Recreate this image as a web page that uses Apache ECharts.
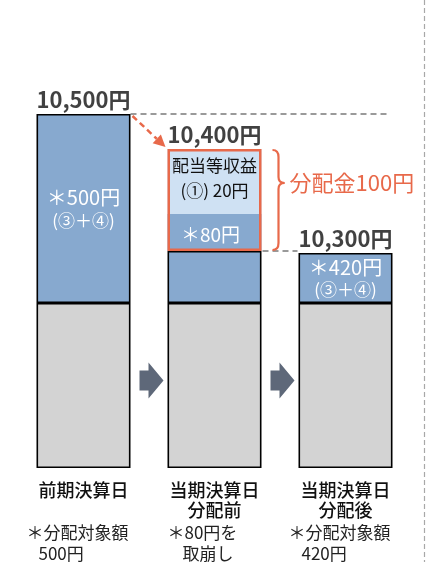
<!DOCTYPE html>
<html><head><meta charset="utf-8">
<script src="https://cdn.jsdelivr.net/npm/echarts@6/dist/echarts.min.js"></script>
<style>html,body{margin:0;padding:0;background:#fff}#c{width:427px;height:562px}</style>
</head><body><div id="c"></div>
<script>
// ---- data ----
const categories = ['前期決算日', '当期決算日\n分配前', '当期決算日\n分配後'];
const totals = [10500, 10400, 10300];
// schematic segment heights (the diagram is not to scale)
const baseHeights = [165, 165, 165];
const blueHeights = [189, 52, 50];
const kept80Heights = ['-', 37, '-'];
const incomeHeights = ['-', 65, '-'];
const blueMain = ['＊500円', '', '＊420円'];
const blueSub = ['(③＋④)', '', '(③＋④)'];
const kept80Label = '＊80円';
const incomeLabel = ['配当等収益', '(①) 20円'];
const payoutLabel = '分配金100円';
const notes = [['＊分配対象額', '500円'], ['＊80円を', '取崩し'], ['＊分配対象額', '420円']];

// ---- style ----
const FONT = '"Noto Sans CJK JP", "Noto Sans", sans-serif';
const FONT_M = '"Noto Sans CJK JP Medium", "Noto Sans CJK JP", "Noto Sans", sans-serif';
const BLUE = '#87a9cf', LIGHT = '#cfe1f3', GRAY = '#d3d3d3', ORANGE = '#e8694a', ARROW = '#5e6879';
const BW = 94;

const num = v => (v === '-' ? 0 : v);
const stackTop = categories.map((_, i) => baseHeights[i] + blueHeights[i] + num(kept80Heights[i]) + num(incomeHeights[i]));
const boxOffset = categories.map((_, i) => kept80Heights[i] === '-' ? '-' : baseHeights[i] + blueHeights[i]);
const boxHeight = categories.map((_, i) => kept80Heights[i] === '-' ? '-' : kept80Heights[i] + incomeHeights[i]);
const fmtYen = v => v.toLocaleString('en-US') + '円';

const chart = echarts.init(document.getElementById('c'));
const common = { type: 'bar', barWidth: BW, barGap: '-100%' };
chart.setOption({
  animation: false,
  textStyle: { fontFamily: FONT },
  grid: { left: 18, right: 16, top: 68, bottom: 94 },
  xAxis: {
    type: 'category', data: categories,
    axisLine: { show: false }, axisTick: { show: false },
    axisLabel: { color: '#111', fontSize: 18, lineHeight: 20, margin: 12, fontFamily: FONT_M, interval: 0 }
  },
  yAxis: { type: 'value', min: 0, max: 400, show: false, splitLine: { show: false } },
  series: [
    Object.assign({}, common, { name: 'base', stack: 'main', data: baseHeights,
      itemStyle: { color: GRAY, borderColor: '#000', borderWidth: 1.6 } }),
    Object.assign({}, common, { name: 'blue', stack: 'main', data: blueHeights,
      itemStyle: { color: BLUE, borderColor: '#000', borderWidth: 1.6 },
      label: { show: true, position: 'inside', color: '#fff', fontFamily: FONT,
        formatter: p => blueMain[p.dataIndex] ? '{a|' + blueMain[p.dataIndex] + '}\n{b|' + blueSub[p.dataIndex] + '}' : '',
        rich: { a: { fontSize: 20, lineHeight: 24, color: '#fff', fontFamily: FONT }, b: { fontSize: 17, lineHeight: 22, color: '#fff', fontFamily: FONT } } } }),
    Object.assign({}, common, { name: 'kept80', stack: 'main', data: kept80Heights,
      itemStyle: { color: BLUE },
      label: { show: true, position: 'inside', color: '#fff', fontSize: 19, offset: [-4, 2], fontFamily: FONT, formatter: kept80Label } }),
    Object.assign({}, common, { name: 'income', stack: 'main', data: incomeHeights,
      itemStyle: { color: LIGHT },
      label: { show: true, position: 'inside', color: '#111', fontSize: 17, lineHeight: 25, offset: [0, -3], fontFamily: FONT,
        formatter: incomeLabel.join('\n') } }),
    Object.assign({}, common, { name: 'boxOffset', stack: 'box', data: boxOffset,
      itemStyle: { color: 'transparent' }, silent: true }),
    Object.assign({}, common, { name: 'box', stack: 'box', data: boxHeight, z: 5,
      itemStyle: { color: 'transparent', borderColor: ORANGE, borderWidth: 2.5 } }),
    { type: 'scatter', name: 'totals', data: stackTop, symbolSize: 1, itemStyle: { color: 'transparent' }, z: 6,
      label: { show: true, position: 'top', distance: 3, color: '#111', fontSize: 22, fontWeight: 'bold', fontFamily: FONT,
        formatter: p => fmtYen(totals[p.dataIndex]) } }
  ]
});

// ---- annotations positioned from the axes ----
const px = (i, v) => chart.convertToPixel({ xAxisIndex: 0, yAxisIndex: 0 }, [i, v]);
const half = BW / 2;
const cx = categories.map((_, i) => px(i, 0)[0]);
const yTop = stackTop.map((v, i) => px(i, v)[1]);
const yBase = px(0, baseHeights[0])[1];
const yZero = px(0, 0)[1];
const yBoxBottom = px(1, boxOffset[1])[1];
const W = chart.getWidth(), H = chart.getHeight();
const g = [];

// gray dashed level line from previous total
g.push({ type: 'line', shape: { x1: cx[0] + half, y1: yTop[0], x2: cx[2] + half - 4, y2: yTop[0] },
  style: { stroke: '#9a9a9a', lineWidth: 2, lineDash: [6, 4] } });
// gray dashed line after distribution
g.push({ type: 'line', shape: { x1: cx[1] + half + 1, y1: yBoxBottom, x2: cx[2] - half - 1, y2: yBoxBottom },
  style: { stroke: '#9a9a9a', lineWidth: 2, lineDash: [6, 4] } });
// orange dashed arrow
(function () {
  const sx = cx[0] + half + 2, sy = yTop[0] + 2, tx = cx[1] - half - 2, ty = yTop[1] - 2;
  const dx = tx - sx, dy = ty - sy, L = Math.hypot(dx, dy), ux = dx / L, uy = dy / L;
  const hl = 12, hw = 6;
  const bx = tx - ux * hl, by = ty - uy * hl;
  g.push({ type: 'line', shape: { x1: sx, y1: sy, x2: bx, y2: by }, style: { stroke: ORANGE, lineWidth: 2.5, lineDash: [6, 4] } });
  g.push({ type: 'polygon', shape: { points: [[tx, ty], [bx - uy * hw, by + ux * hw], [bx + uy * hw, by - ux * hw]] }, style: { fill: ORANGE } });
})();
// curly bracket
(function () {
  const x0 = cx[1] + half + 11, yt = yTop[1] + 1, yb = yBoxBottom - 1;
  const ym = yt + (yb - yt) * 0.33, xm = x0 + 6, xt = x0 + 12;
  const st = { stroke: ORANGE, lineWidth: 2.2, fill: null };
  const curve = (a, b, c) => g.push({ type: 'bezierCurve', shape: { x1: a[0], y1: a[1], cpx1: b[0], cpy1: b[1], x2: c[0], y2: c[1] }, style: st });
  const seg = (a, b) => g.push({ type: 'line', shape: { x1: a[0], y1: a[1], x2: b[0], y2: b[1] }, style: st });
  curve([x0, yt], [xm, yt], [xm, yt + 7]);
  seg([xm, yt + 7], [xm, ym - 6]);
  curve([xm, ym - 6], [xm, ym], [xt, ym]);
  curve([xt, ym], [xm, ym], [xm, ym + 6]);
  seg([xm, ym + 6], [xm, yb - 7]);
  curve([xm, yb - 7], [xm, yb], [x0, yb]);
  g.push({ type: 'text', x: xt + 5, y: ym, style: { text: payoutLabel, fill: ORANGE, font: '22px ' + FONT, textVerticalAlign: 'middle', textAlign: 'left' } });
})();
// step arrows between bars
for (let k = 0; k < 2; k++) {
  const x1 = cx[k] + half + 9, x2 = cx[k + 1] - half - 4, yc = (yBase + yZero) / 2 - 5;
  const xh = x1 + 9;
  g.push({ type: 'polygon', shape: { points: [[x1, yc - 10], [xh, yc - 10], [xh, yc - 18], [x2, yc], [xh, yc + 18], [xh, yc + 10], [x1, yc + 10]] },
    style: { fill: ARROW } });
}
// notes below categories
const noteIndent = [[-57, -45], [-47, -32], [-57, -44]];
notes.forEach((lines, i) => {
  lines.forEach((t, j) => {
    g.push({ type: 'text', x: cx[i] + noteIndent[i][j], y: yZero + 65 + j * 21,
      style: { text: t, fill: '#222', font: '17px ' + FONT, textVerticalAlign: 'middle', textAlign: 'left' } });
  });
});
// right dashed divider
g.push({ type: 'line', shape: { x1: W - 2.5, y1: 0, x2: W - 2.5, y2: H }, style: { stroke: '#a8a8a8', lineWidth: 1.2, lineDash: [5, 3] } });

chart.setOption({ graphic: g });
</script>
</body></html>
